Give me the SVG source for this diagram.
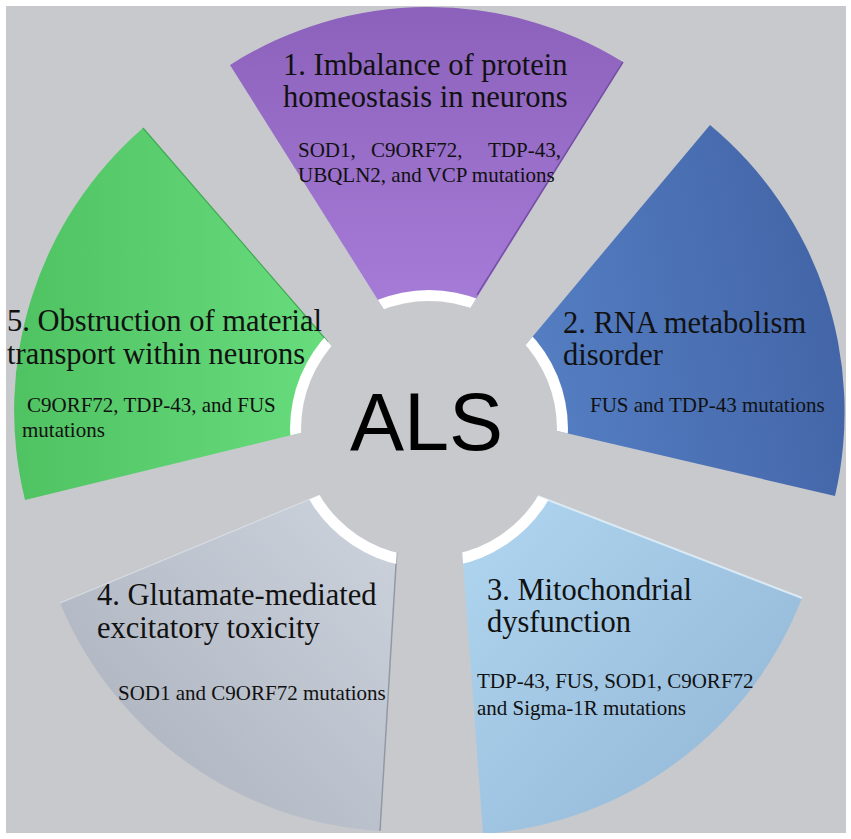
<svg xmlns="http://www.w3.org/2000/svg" width="851" height="839" viewBox="0 0 851 839">
<style>
.title{font-family:"Liberation Serif","Times New Roman",serif;font-size:30.5px;fill:#111;}
.sub{font-family:"Liberation Serif","Times New Roman",serif;font-size:21px;fill:#111;}
.als{font-family:"Liberation Sans",Arial,sans-serif;font-size:81px;fill:#000;}
</style>
<defs>
<clipPath id="frame"><rect x="6" y="6" width="840" height="827"/></clipPath>
<clipPath id="wedges">
<path d="M427,378 L230,65 A370,370 0 0 1 623,62 Z"/>
<path d="M470.5,410.6 L710,125 A373,373 0 0 1 835,496 Z"/>
<path d="M455.8,464.4 L802,598 A371,371 0 0 1 483,834 Z"/>
<path d="M402.3,460.8 L380,831 A371,371 0 0 1 60,603 Z"/>
<path d="M388.1,411.5 L25,500 A374,374 0 0 1 143,128 Z"/>
</clipPath>
<linearGradient id="gPurple" x1="0" y1="0" x2="0" y2="1">
<stop offset="0" stop-color="#8b61bb"/><stop offset="1" stop-color="#ac82df"/>
</linearGradient>
<linearGradient id="gBlue" x1="0" y1="0.6" x2="1" y2="0.4">
<stop offset="0" stop-color="#5883c8"/><stop offset="1" stop-color="#4264a6"/>
</linearGradient>
<linearGradient id="gLight" x1="0" y1="0" x2="1" y2="1">
<stop offset="0" stop-color="#b2d8f2"/><stop offset="1" stop-color="#90b4d4"/>
</linearGradient>
<linearGradient id="gGray" x1="1" y1="0" x2="0" y2="1">
<stop offset="0" stop-color="#cfd6e0"/><stop offset="1" stop-color="#a9afba"/>
</linearGradient>
<linearGradient id="gGreen" x1="0" y1="0" x2="1" y2="0">
<stop offset="0" stop-color="#4fc262"/><stop offset="1" stop-color="#6de282"/>
</linearGradient>
</defs>

<rect x="6" y="6" width="840" height="827" fill="#c8c9cd"/>

<g clip-path="url(#frame)">
<g id="node1">
<path d="M427,378 L230,65 A370,370 0 0 1 623,62 Z" fill="url(#gPurple)"/>
<line x1="477" y1="295" x2="623" y2="62" stroke="#7650a6" stroke-width="1.5"/>
</g>
<g id="node2">
<path d="M470.5,410.6 L710,125 A373,373 0 0 1 835,496 Z" fill="url(#gBlue)"/>
</g>
<g id="node3">
<path d="M455.8,464.4 L802,598 A371,371 0 0 1 483,834 Z" fill="url(#gLight)"/>
<line x1="535" y1="495" x2="802" y2="598" stroke="#e4f3fc" stroke-width="2" opacity="0.8"/>
</g>
<g id="node4">
<path d="M402.3,460.8 L380,831 A371,371 0 0 1 60,603 Z" fill="url(#gGray)"/>
<line x1="397" y1="548" x2="380" y2="831" stroke="#9399a4" stroke-width="1.5"/>
<line x1="320" y1="495" x2="60" y2="603" stroke="#dde3ea" stroke-width="1.2" opacity="0.8"/>
</g>
<g id="node5">
<path d="M388.1,411.5 L25,500 A374,374 0 0 1 143,128 Z" fill="url(#gGreen)"/>
<line x1="328" y1="342" x2="143" y2="128" stroke="#3fa953" stroke-width="1.2"/>
</g>
</g>

<g id="ring" clip-path="url(#wedges)">
<circle cx="429" cy="429" r="139" fill="#ffffff"/>
</g>

<g id="center">
<circle cx="429" cy="429" r="128" fill="#c8c9cd"/>
<text class="als" x="426.5" y="450" text-anchor="middle">ALS</text>
</g>

<g id="labels1">
<text class="title" x="283" y="75">1. Imbalance of protein</text>
<text class="title" x="283" y="107">homeostasis in neurons</text>
<text class="sub" y="157"><tspan x="298">SOD1,</tspan><tspan x="371">C9ORF72,</tspan><tspan x="488">TDP-43,</tspan></text>
<text class="sub" x="298" y="182">UBQLN2, and VCP mutations</text>
</g>
<g id="labels2">
<text class="title" x="563" y="333">2. RNA metabolism</text>
<text class="title" x="563" y="365">disorder</text>
<text class="sub" x="590" y="412">FUS and TDP-43 mutations</text>
</g>
<g id="labels3">
<text class="title" x="487" y="600">3. Mitochondrial</text>
<text class="title" x="487" y="632">dysfunction</text>
<text class="sub" x="477" y="688">TDP-43, FUS, SOD1, C9ORF72</text>
<text class="sub" x="477" y="715">and Sigma-1R mutations</text>
</g>
<g id="labels4">
<text class="title" x="97" y="605">4. Glutamate-mediated</text>
<text class="title" x="97" y="638">excitatory toxicity</text>
<text class="sub" x="118" y="700">SOD1 and C9ORF72 mutations</text>
</g>
<g id="labels5">
<text class="title" x="7" y="331">5. Obstruction of material</text>
<text class="title" x="7" y="364">transport within neurons</text>
<text class="sub" x="27" y="412">C9ORF72, TDP-43, and FUS</text>
<text class="sub" x="22" y="437">mutations</text>
</g>
</svg>
